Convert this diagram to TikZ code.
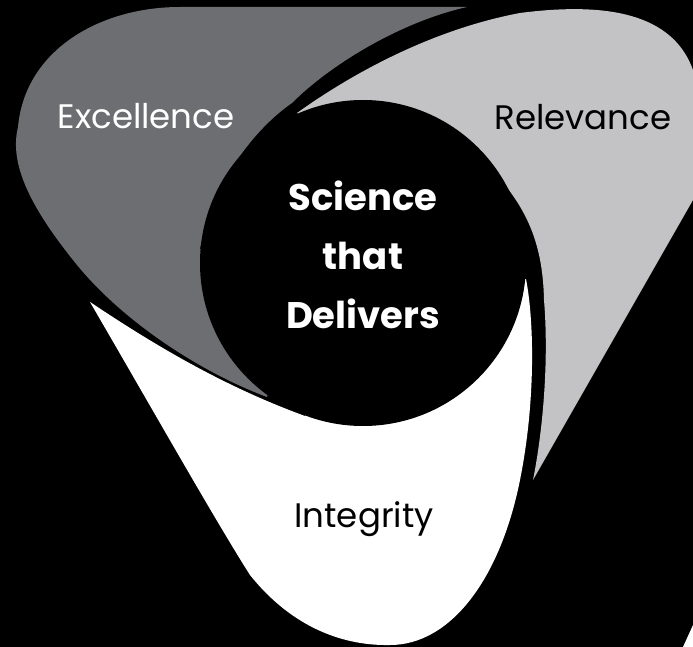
\documentclass[tikz,border=0pt]{standalone}
\usepackage{fontspec}
\setmainfont{Poppins}
\definecolor{darkpetal}{RGB}{109,110,113}
\definecolor{lightpetal}{RGB}{195,194,196}

\begin{document}
\begin{tikzpicture}[x=1pt,y=-1pt,
  petallabel/.style={font=\fontsize{34}{40}\selectfont, anchor=base, inner sep=0pt},
  core/.style={circle, fill=black, minimum size=326pt, inner sep=0pt},
  motto/.style={align=center, text=white, inner sep=0pt,
    font=\fontsize{37}{59}\selectfont\bfseries}]
\fill[black] (0,0) rectangle (693,647);
\clip (0,0) rectangle (693,647);

% Excellence
\fill[darkpetal] (267,397) .. controls (200,372) and (120,320) .. (73,260)
  .. controls (25,200) and (10,160) .. (18,127)
  .. controls (25,50) and (100,7) .. (180,7)
  -- (467,7)
  .. controls (400,22) and (330,65) .. (292,103)
  .. controls (260,125) and (215,175) .. (200,249)
  -- (300,290) -- cycle;

% Relevance
\fill[lightpetal] (297,113) .. controls (350,75) and (430,30) .. (520,13)
  .. controls (620,0) and (675,20) .. (693,70)
  -- (693,200) -- (533,480)
  .. controls (543,430) and (549,360) .. (544,300)
  .. controls (543,255) and (533,220) .. (505,185)
  -- (400,200) -- cycle;

% Integrity
\fill[white] (90,302) .. controls (150,342) and (220,385) .. (305,416)
  -- (363,330) -- (526,279)
  .. controls (534,320) and (536,400) .. (520,480)
  .. controls (500,580) and (450,645) .. (390,645)
  .. controls (340,646) and (290,625) .. (250,575)
  .. controls (215,520) and (150,405) .. (90,302) -- cycle;
\fill[white] (693,625) -- (693,647) -- (683,647) -- cycle;

\node[core] (hub) at (363,263) {};
\node[motto] (motto) at (363,255) {Science\\that\\Delivers};

\node[petallabel, text=white] (excellence) at (146,129) {Excellence};
\node[petallabel, text=black] (relevance) at (583,130) {Relevance};
\node[petallabel, text=black] (integrity) at (364,527) {Integrity};
\end{tikzpicture}
\end{document}
